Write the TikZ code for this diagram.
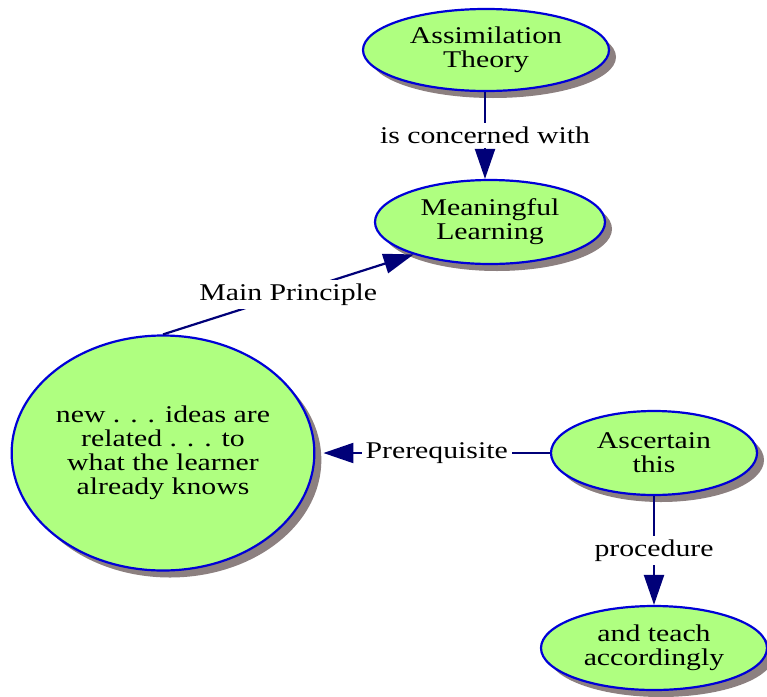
\documentclass[tikz,border=0pt]{standalone}
\usepackage{fontspec}
\setmainfont[FakeStretch=1.24]{Liberation Serif}
\usetikzlibrary{shapes.geometric,shadows,arrows.meta,calc}
\definecolor{conceptfill}{RGB}{175,255,128}
\definecolor{conceptline}{RGB}{0,0,215}
\definecolor{linkline}{RGB}{0,0,120}
\definecolor{shadowgray}{RGB}{140,128,128}

\begin{document}
\begin{tikzpicture}[x=1pt,y=-1pt,
    concept/.style={ellipse,draw=conceptline,line width=2.2pt,fill=conceptfill,
      inner sep=0pt,align=center,font=\fontsize{24}{24}\selectfont,
      drop shadow={shadow xshift=7pt,shadow yshift=-7pt,fill=shadowgray,opacity=1}},
    link/.style={draw=linkline,line width=2.2pt,-{Triangle[length=30pt,width=20pt]}},
    linklabel/.style={fill=white,inner sep=4pt,font=\fontsize{24}{24}\selectfont}]
   \useasboundingbox (0,0) rectangle (767,696);

   \node[concept,minimum width=246pt,minimum height=82pt] (theory) at (486,50) {Assimilation\\Theory};
   \node[concept,minimum width=230pt,minimum height=84pt] (learning) at (490,222) {Meaningful\\Learning};
   \node[concept,minimum width=298pt,minimum height=235pt] (ideas) at (163,453)
      {new . . . ideas are\\related . . . to\\what the learner\\already knows};
   \node[concept,minimum width=206pt,minimum height=84pt] (ascertain) at (654,453) {Ascertain\\this};
   \node[concept,minimum width=226pt,minimum height=84pt] (teach) at (654,648) {and teach\\accordingly};

   \draw[link] ([xshift=-1pt]theory.south) -- node[linklabel] (concerned) {is concerned with}
      ([xshift=-1pt]theory.south |- learning.north);
   \draw[link] (ideas.north) -- node[linklabel] (principle) {Main Principle} (learning.203);
   \draw[link] (ascertain.west) -- node[linklabel] (prereq) {Prerequisite} ([xshift=8pt]ideas.east);
   \draw[link] (ascertain.south) -- node[linklabel] (procedure) {procedure} (teach.north);

\end{tikzpicture}
\end{document}
